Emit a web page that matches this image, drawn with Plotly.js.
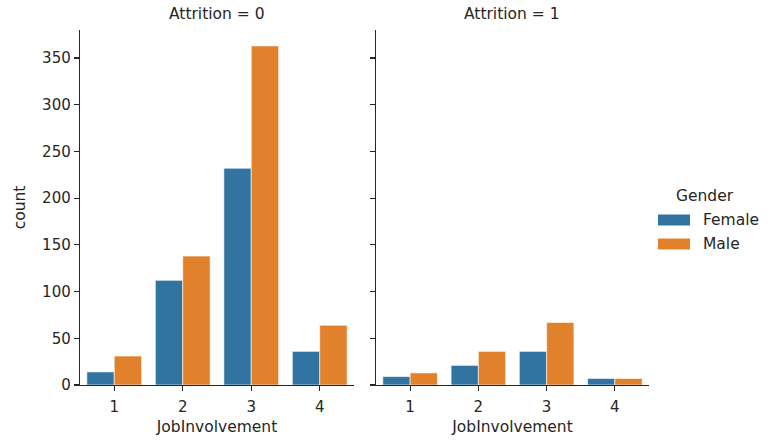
<!DOCTYPE html>
<html>
<head>
<meta charset="utf-8">
<script src="https://cdn.plot.ly/plotly-3.0.1.min.js"></script>
<style>body{margin:0;background:#fff}</style>
</head>
<body>
<div id="chart" style="width:768px;height:445px"></div>
<script>
// Data
const jobInvolvement = ['1', '2', '3', '4'];
const femaleAttr0 = [14, 112, 232, 36];
const maleAttr0 = [31, 138, 363, 64];
const femaleAttr1 = [9, 21, 36, 7];
const maleAttr1 = [13, 36, 67, 7];
const yTicks = [0, 50, 100, 150, 200, 250, 300, 350];
const genderLabels = ['Female', 'Male'];

const BLUE = '#3274a1';
const ORANGE = '#e1812c';
const TXT = '#262626';
const FONT = 'DejaVu Sans';
const FS = 15.5;

function barTrace(y, name, color, xa, ya) {
  return {
    type: 'bar', x: jobInvolvement, y: y, name: name,
    xaxis: xa, yaxis: ya, showlegend: false,
    marker: {color: color, line: {color: '#ffffff', width: 0.6}},
    hoverinfo: 'x+y+name'
  };
}

const data = [
  barTrace(femaleAttr0, genderLabels[0], BLUE, 'x', 'y'),
  barTrace(maleAttr0, genderLabels[1], ORANGE, 'x', 'y'),
  barTrace(femaleAttr1, genderLabels[0], BLUE, 'x2', 'y2'),
  barTrace(maleAttr1, genderLabels[1], ORANGE, 'x2', 'y2')
];

const H = 445, W = 768;
const py = p => (H - p) / H;
const px = p => p / W;

const axCommon = {
  showline: true, linecolor: TXT, linewidth: 1.25,
  ticks: 'outside', ticklen: 5, tickwidth: 1.1, tickcolor: TXT,
  showgrid: false, zeroline: false,
  tickfont: {family: FONT, size: 15, color: TXT}
};

const xCommon = Object.assign({}, axCommon, {
  type: 'category', categoryorder: 'array', categoryarray: jobInvolvement,
  range: [-0.5, 3.5], fixedrange: true, ticklabelstandoff: 3,
  title: {text: 'JobInvolvement', font: {family: FONT, size: FS, color: TXT}, standoff: 6}
});

const yCommon = Object.assign({}, axCommon, {
  range: [0, 380], tickvals: yTicks, fixedrange: true
});

const layout = {
  width: W, height: H,
  margin: {l: 0, r: 0, t: 0, b: 0},
  paper_bgcolor: '#ffffff', plot_bgcolor: '#ffffff',
  barmode: 'group', bargap: 0.2, bargroupgap: 0,
  font: {family: FONT, size: FS, color: TXT},
  xaxis: Object.assign({}, xCommon, {domain: [px(80), px(354)], anchor: 'y'}),
  xaxis2: Object.assign({}, xCommon, {domain: [px(376), px(649)], anchor: 'y2'}),
  yaxis: Object.assign({}, yCommon, {domain: [py(385), py(30)], anchor: 'x',
    title: {text: 'count', font: {family: FONT, size: FS, color: TXT}, standoff: 12}}),
  yaxis2: Object.assign({}, yCommon, {domain: [py(385), py(30)], anchor: 'x2',
    matches: 'y', showticklabels: false}),
  annotations: [
    {text: 'Attrition = 0', xref: 'paper', yref: 'paper', x: px(217), y: py(14),
     xanchor: 'center', yanchor: 'middle', showarrow: false, font: {family: FONT, size: FS, color: TXT}},
    {text: 'Attrition = 1', xref: 'paper', yref: 'paper', x: px(512), y: py(14),
     xanchor: 'center', yanchor: 'middle', showarrow: false, font: {family: FONT, size: FS, color: TXT}},
    {text: 'Gender', xref: 'paper', yref: 'paper', x: px(705), y: py(196),
     xanchor: 'center', yanchor: 'middle', showarrow: false, font: {family: FONT, size: FS, color: TXT}},
    {text: genderLabels[0], xref: 'paper', yref: 'paper', x: px(701), y: py(220),
     xanchor: 'left', yanchor: 'middle', showarrow: false, font: {family: FONT, size: FS, color: TXT}},
    {text: genderLabels[1], xref: 'paper', yref: 'paper', x: px(701), y: py(244),
     xanchor: 'left', yanchor: 'middle', showarrow: false, font: {family: FONT, size: FS, color: TXT}}
  ],
  shapes: [
    {type: 'rect', xref: 'paper', yref: 'paper', x0: px(658), x1: px(690), y0: py(225.5), y1: py(214.5),
     fillcolor: BLUE, line: {width: 0}},
    {type: 'rect', xref: 'paper', yref: 'paper', x0: px(658), x1: px(690), y0: py(249.5), y1: py(238.5),
     fillcolor: ORANGE, line: {width: 0}}
  ]
};

Plotly.newPlot('chart', data, layout, {displayModeBar: false, staticPlot: true});
</script>
</body>
</html>
